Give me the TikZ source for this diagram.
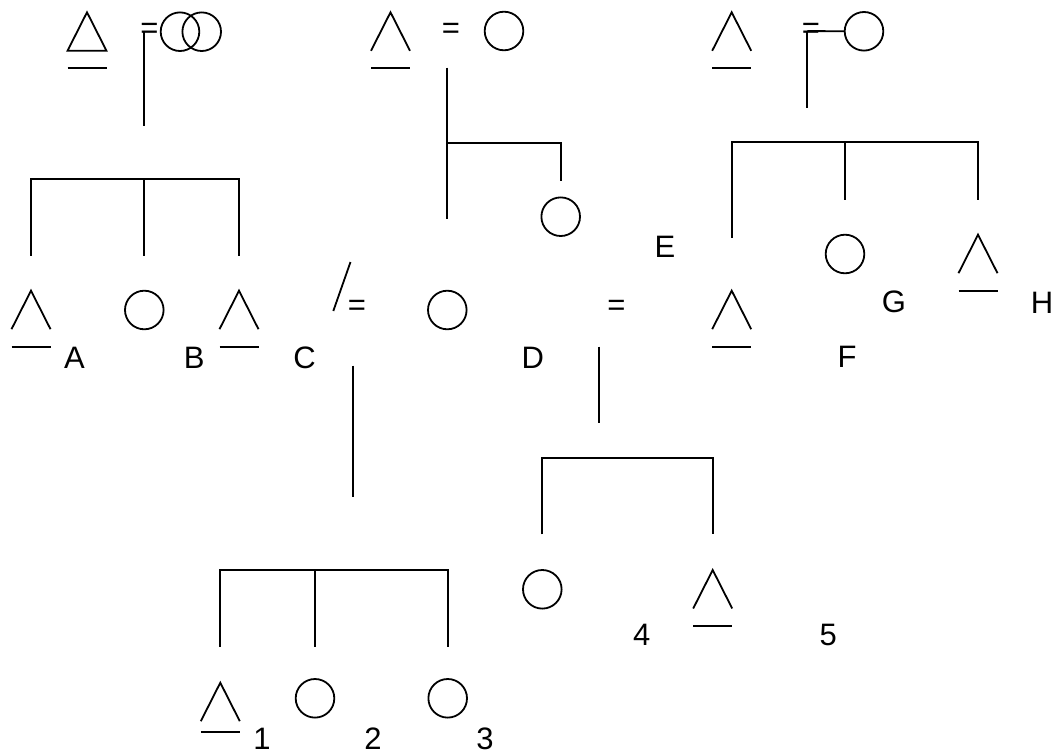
\documentclass[tikz,border=0pt]{standalone}
\usepackage{fontspec}
\setmainfont{Liberation Sans}
\begin{document}
\begin{tikzpicture}[x=1pt,y=-1pt,line width=1.8pt,
  circ/.style={draw,circle,minimum size=38.6pt,inner sep=0pt,line width=1.8pt},
  lbl/.style={anchor=base,inner sep=0pt,font=\fontsize{31}{31}\selectfont},
  eqs/.style={anchor=base,inner sep=0pt,font=\fontsize{31}{31}\selectfont},
  tri/.pic={\draw (-19.5,38.5) -- (0,0) -- (19.5,38.5);},
  ctri/.pic={\draw (-19.5,38.5) -- (0,0) -- (19.5,38.5) -- cycle;},
  uline/.pic={\draw (-19.5,0) -- (19.5,0);}]
\useasboundingbox (0,0) rectangle (1055,755);

% ---- top-left family
\pic at (87,12.3) {ctri};
\pic at (87,67.7) {uline};
\node[eqs] (eq1) at (149.5,38.5) {=};
\node[circ] (w1a) at (180,31.7) {};
\node[circ] (w1b) at (201.7,31.7) {};
\coordinate (t1) at (144.3,31);
\coordinate (t1b) at (144.3,125.7);
\draw (t1) -- (t1b);
\draw (30.7,255.7) -- (30.7,179.3) -- (239.3,179.3) -- (239.3,255.7);
\draw (144.3,179.3) -- (144.3,255.7);

% row of children A,B
\pic at (31,290.7) {tri};
\pic at (31,346.7) {uline};
\node[circ] (cB) at (144.3,310) {};
\pic at (239,290.7) {tri};
\pic at (239,346.7) {uline};
\node[lbl] (lA) at (74.5,368.3) {A};
\node[lbl] (lB) at (194.3,368.3) {B};
\node[lbl] (lC) at (304.5,368.3) {C};

% ---- top-middle family
\pic at (390.5,12.3) {tri};
\pic at (390.5,67.7) {uline};
\node[eqs] (eq2) at (451,38.5) {=};
\node[circ] (w2) at (504,31) {};
\draw (447.3,67.7) -- (447.3,219);
\draw (447.3,142.7) -- (560.7,142.7) -- (560.7,181);
\node[circ] (c2) at (560.7,216.7) {};

% ---- top-right family
\pic at (731.7,12.3) {tri};
\pic at (731.7,67.7) {uline};
\node[eqs] (eq3) at (811,38.5) {=};
\node[circ] (w3) at (864,31.3) {};
\coordinate (t3) at (807.3,31);
\draw (t3) -- (w3.west);
\draw (t3) -- (807.3,107.7);
\draw (731.7,237.7) -- (731.7,142.3) -- (978.3,142.3) -- (978.3,200);
\draw (845,142.3) -- (845,200);
\node[lbl] (lE) at (665,257) {E};
\pic at (731.7,290.7) {tri};
\pic at (731.7,346.7) {uline};
\node[circ] (cG) at (845,254) {};
\pic at (978,234.7) {tri};
\pic at (978,290.7) {uline};
\node[lbl] (lF) at (847,367.7) {F};
\node[lbl] (lG) at (894,312.5) {G};
\node[lbl] (lH) at (1042,313.3) {H};

% ---- middle row
\draw (333.3,311) -- (350.5,262);
\node[eqs] (eq4) at (357,315.5) {=};
\node[circ] (cD) at (447.3,310) {};
\node[lbl] (lD) at (532.7,368.3) {D};
\node[eqs] (eq5) at (616.5,315.5) {=};

% ---- bottom-left family
\draw (352.7,365.7) -- (352.7,497);
\draw (220,646.7) -- (220,570) -- (447.7,570) -- (447.7,646.7);
\draw (314.7,570) -- (314.7,646.7);
\pic at (220.3,682.7) {tri};
\pic at (220.3,731.7) {uline};
\node[circ] (c2b) at (315,698.3) {};
\node[circ] (c3b) at (447.7,698.3) {};
\node[lbl] (l1) at (262,749) {1};
\node[lbl] (l2) at (373,749) {2};
\node[lbl] (l3) at (485,749) {3};

% ---- bottom-right family
\draw (599,346.7) -- (599,423.3);
\draw (542.3,534.3) -- (542.3,458.3) -- (712.7,458.3) -- (712.7,534.3);
\node[circ] (c4) at (542.3,589.3) {};
\pic at (712.7,570) {tri};
\pic at (712.7,626) {uline};
\node[lbl] (l4) at (641.7,645) {4};
\node[lbl] (l5) at (828.3,645) {5};
\end{tikzpicture}
\end{document}
